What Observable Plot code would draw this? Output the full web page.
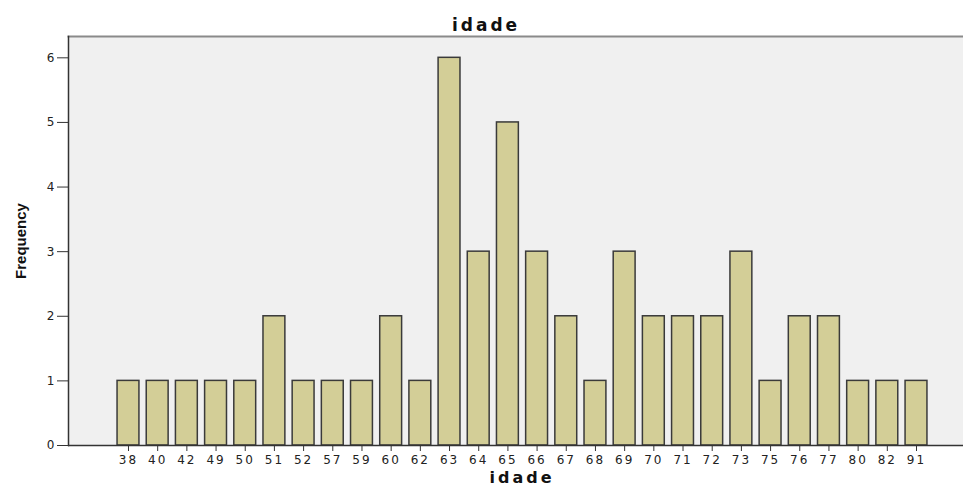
<!DOCTYPE html>
<html>
<head>
<meta charset="utf-8">
<script src="https://cdn.jsdelivr.net/npm/d3@7"></script>
<script src="https://cdn.jsdelivr.net/npm/@observablehq/plot@0.6"></script>
<style>
  html, body { margin: 0; padding: 0; background: #ffffff; overflow: hidden; }
  #chart svg { display: block; }
</style>
</head>
<body>
<div id="chart"></div>
<script>
const ages = ["38","40","42","49","50","51","52","57","59","60","62","63","64","65","66","67","68","69","70","71","72","73","75","76","77","80","82","91"];
const counts = [1,1,1,1,1,2,1,1,1,2,1,6,3,5,3,2,1,3,2,2,2,3,1,2,2,1,1,1];
const yTicks = [0,1,2,3,4,5,6];
const titleText = "idade";
const xLabel = "idade";
const yLabel = "Frequency";

const data = ages.map((a, i) => ({age: a, count: counts[i]}));
const tickFont = "'DejaVu Sans', Verdana, sans-serif";

const chart = Plot.plot({
  width: 963,
  height: 486,
  marginLeft: 68,
  marginRight: 0,
  marginTop: 36,
  marginBottom: 41,
  style: {fontFamily: tickFont, fontSize: "12px", color: "#222", background: "#ffffff", overflow: "visible"},
  x: {type: "band", domain: ages, range: [113.4, 930.6], paddingInner: 0.25, paddingOuter: 0.125, round: false},
  y: {domain: [0, 6.33]},
  marks: [
    Plot.frame({fill: "#f0f0f0"}),
    Plot.frame({anchor: "top", stroke: "#8a8a8a", strokeWidth: 2}),
    Plot.barY(data, {x: "age", y: "count", fill: "#d3ce97", stroke: "#3a3a3a", strokeWidth: 1.5}),
    Plot.frame({anchor: "left", stroke: "#333", strokeWidth: 1.5}),
    Plot.ruleY([0], {stroke: "#333", strokeWidth: 1.5}),
    Plot.axisY({ticks: yTicks, tickFormat: d => d, tickSize: 11, tickPadding: 2, label: null, stroke: "#333", fontSize: 12}),
    Plot.axisX({tickSize: 6, tickPadding: 4, label: null, stroke: "#333", fontSize: 12}),
    Plot.text([yLabel], {frameAnchor: "left", textAnchor: "middle", rotate: -90, dx: -47, fontWeight: "bold", fontSize: 15, fontFamily: "'Liberation Sans', Arial, sans-serif", fill: "#111"}),
    Plot.text([xLabel], {frameAnchor: "bottom", lineAnchor: "bottom", dy: 37, dx: 6, fontWeight: "bold", fontSize: 16, fill: "#111"}),
    Plot.text([titleText], {frameAnchor: "top", lineAnchor: "bottom", dy: -6, dx: -30, fontWeight: "bold", fontSize: 17, fill: "#111"})
  ]
});
document.getElementById("chart").appendChild(chart);

const svg = d3.select(chart);
svg.selectAll('g[aria-label="x-axis tick label"] text').style("letter-spacing", "2px");
svg.selectAll('g[aria-label="y-axis tick label"] text').style("letter-spacing", "1px");
svg.selectAll('g[aria-label="text"] text').filter(function() { return this.textContent === "idade"; }).style("letter-spacing", "3px");
</script>
</body>
</html>
